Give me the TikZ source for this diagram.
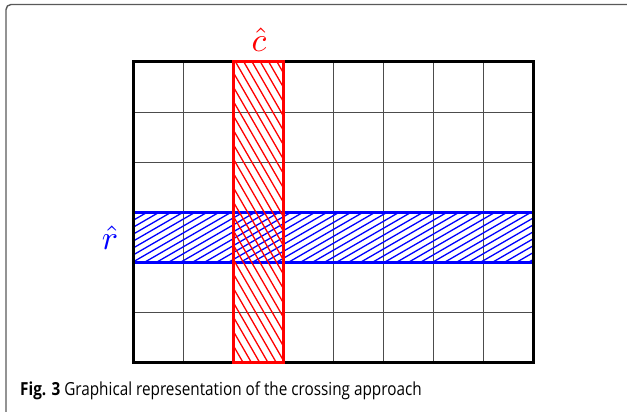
\documentclass[tikz,border=0pt]{standalone}
\usepackage{graphicx}
\usepackage{fontspec}
\newfontfamily\capfont{Open Sans}
\begin{document}
\begin{tikzpicture}[x=1pt,y=-1pt,
  gridline/.style={draw=black!70,line width=0.9pt},
  outerbox/.style={draw=black,line width=3pt},
  bandbox/.style={line width=3pt},
  hatchline/.style={line width=1.3pt},
  frameline/.style={draw=black!65,line width=1.4pt,rounded corners=5pt},
  lbl/.style={inner sep=0pt}]
\useasboundingbox (0,0) rectangle (627,412);
% frame
\coordinate (fa) at (627,4.5);
\coordinate (fb) at (6,4.5);
\coordinate (fc) at (6,412);
\draw[frameline] (fa) -- (fb) -- (fc);
% grid
\coordinate (g0) at (133,62);
\coordinate (g1) at (533,362);
\foreach \i in {1,...,7} \draw[gridline] (133+50*\i,62) -- (133+50*\i,362);
\foreach \j in {1,...,5} \draw[gridline] (133,62+50*\j) -- (533,62+50*\j);
% blue row
\coordinate (b0) at (133,212);
\coordinate (b1) at (533,262);
\begin{scope}
\clip (b0) rectangle (b1);
\foreach \t in {-96,-84,...,408} \draw[hatchline,blue] (133+\t,262) -- (219.6+\t,212);
\end{scope}
\draw[bandbox,blue] (b0) rectangle (b1);
\draw[outerbox] (g0) rectangle (g1);
% red column
\coordinate (r0) at (233,62);
\coordinate (r1) at (283,362);
\begin{scope}
\clip (r0) rectangle (r1);
\foreach \s in {0,1,...,28} \draw[hatchline,red] (233-180+8.3*\s,62) -- (233-180+173.2+8.3*\s,362);
\end{scope}
\draw[bandbox,red] (r0) rectangle (r1);
% labels
\node[lbl,text=red,anchor=base] (cl) at (259,52) {\scalebox{3.4}{$\hat{c}$}};
\node[lbl,text=blue,anchor=base] (rl) at (110,249) {\scalebox{3.4}{$\hat{r}$}};
\node[inner sep=0pt,anchor=base west] (cap) at (20,395) {\scalebox{0.85}[1]{\capfont\fontsize{18}{22}\selectfont\textbf{Fig. 3} Graphical representation of the crossing approach}};
\end{tikzpicture}
\end{document}
